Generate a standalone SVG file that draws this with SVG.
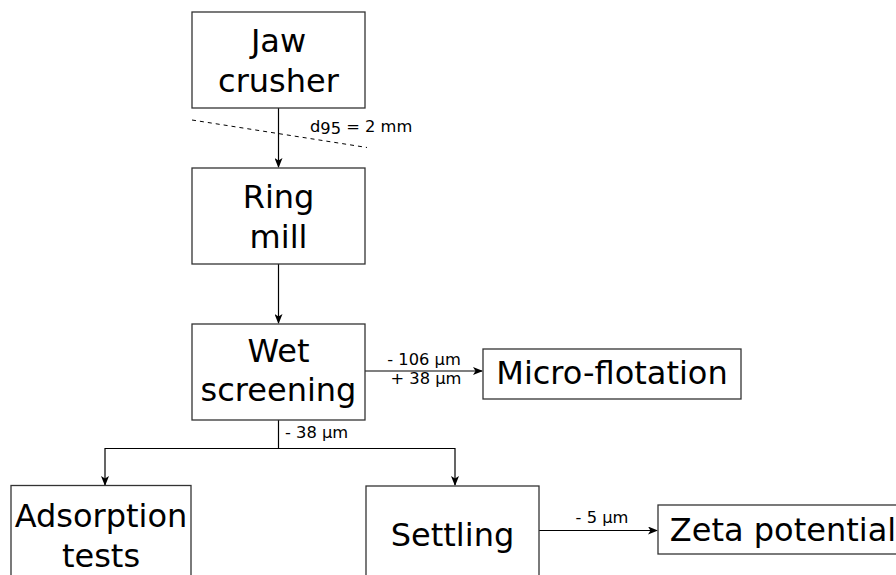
<svg xmlns="http://www.w3.org/2000/svg" width="896" height="575" viewBox="0 0 896 575">
<defs>
<style>
.box{fill:#fff;stroke:#333;stroke-width:1.3}
.nt{font-family:"DejaVu Sans",Verdana,sans-serif;font-size:32px;fill:#000;text-anchor:middle}
.lt{font-family:"DejaVu Sans",Verdana,sans-serif;font-size:16.3px;fill:#000;text-anchor:middle}
.ln{fill:none;stroke:#000;stroke-width:1.2}
</style>
<marker id="ah" markerWidth="10" markerHeight="8" refX="9" refY="4" orient="auto" markerUnits="userSpaceOnUse">
<path d="M0,0 L10,4 L0,8 L2.5,4 Z" fill="#000"/>
</marker>
</defs>
<rect width="896" height="575" fill="#fff"/>
<g id="connectors">
<line class="ln" x1="278.5" y1="108" x2="278.5" y2="167" marker-end="url(#ah)"/>
<line class="ln" x1="278.5" y1="264" x2="278.5" y2="323" marker-end="url(#ah)"/>
<line class="ln" x1="365" y1="371" x2="482" y2="371" marker-end="url(#ah)"/>
<polyline class="ln" points="278.5,420 278.5,448.5 105,448.5 105,485" marker-end="url(#ah)"/>
<polyline class="ln" points="278.5,448.5 455,448.5 455,485" marker-end="url(#ah)"/>
<line class="ln" x1="539" y1="530.5" x2="657" y2="530.5" marker-end="url(#ah)"/>
<line x1="192" y1="120" x2="367" y2="147.5" stroke="#000" stroke-width="1" stroke-dasharray="4 4"/>
<text class="lt" x="310" y="132" style="text-anchor:start">d<tspan dy="2">95</tspan><tspan dy="-2"> = 2 mm</tspan></text>
<text class="lt" x="424" y="365">- 106 µm</text>
<text class="lt" x="426" y="384">+ 38 µm</text>
<text class="lt" x="285" y="438" style="text-anchor:start">- 38 µm</text>
<text class="lt" x="602" y="523">- 5 µm</text>
</g>
<g id="jaw-crusher">
<rect class="box" x="192" y="12" width="173" height="96"/>
<text class="nt" x="278.5" y="52">Jaw</text>
<text class="nt" x="278.5" y="92">crusher</text>
</g>
<g id="ring-mill">
<rect class="box" x="192" y="168" width="173" height="96"/>
<text class="nt" x="278.5" y="208">Ring</text>
<text class="nt" x="278.5" y="248">mill</text>
</g>
<g id="wet-screening">
<rect class="box" x="192" y="324" width="173" height="96"/>
<text class="nt" x="278.5" y="362">Wet</text>
<text class="nt" x="278.5" y="401">screening</text>
</g>
<g id="micro-flotation">
<rect class="box" x="483" y="349" width="258" height="50"/>
<text class="nt" x="612" y="384">Micro-flotation</text>
</g>
<g id="adsorption-tests">
<rect class="box" x="11" y="485.5" width="180" height="100"/>
<text class="nt" x="101" y="527">Adsorption</text>
<text class="nt" x="101" y="567">tests</text>
</g>
<g id="settling">
<rect class="box" x="366" y="486" width="173" height="100"/>
<text class="nt" x="452.5" y="546">Settling</text>
</g>
<g id="zeta-potential">
<rect class="box" x="658" y="505" width="250" height="49"/>
<text class="nt" x="783" y="541">Zeta potential</text>
</g>
</svg>
